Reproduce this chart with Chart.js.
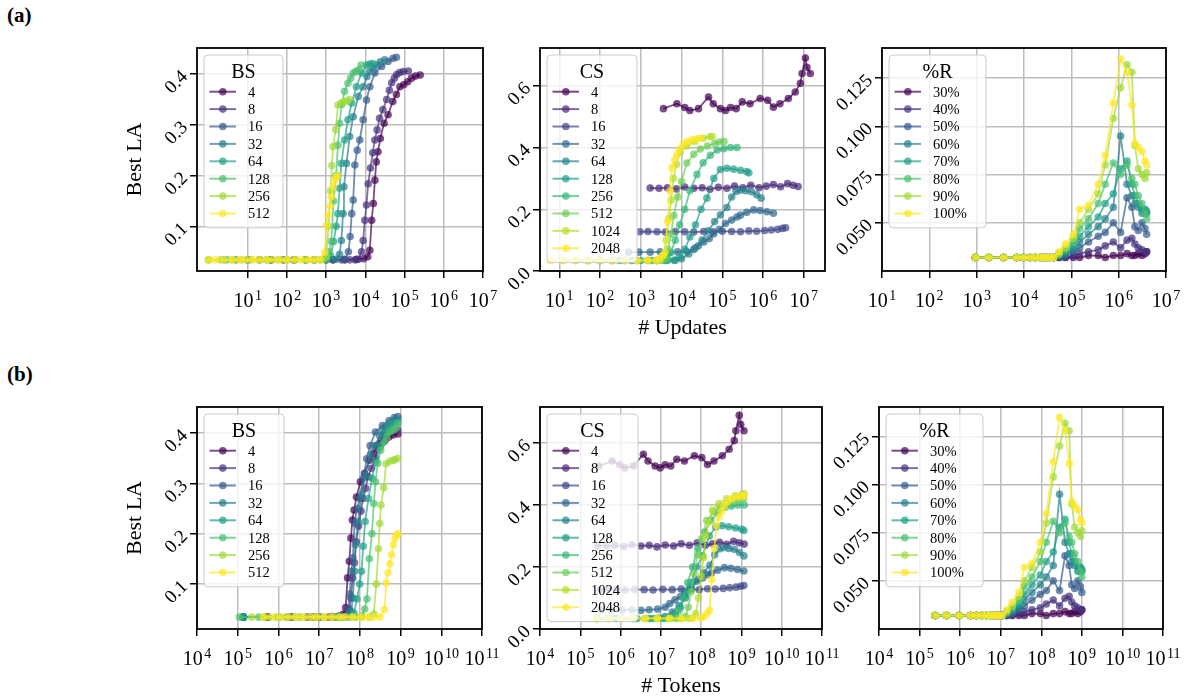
<!DOCTYPE html>
<html lang="en">
<head>
<meta charset="UTF-8" />
<title>Best LA vs updates / tokens</title>
<script src="https://cdn.jsdelivr.net/npm/chart.js"></script>
<style>
  body { margin:0; background:#fff; width:1184px; height:700px; overflow:hidden; position:relative;
         font-family:'Liberation Serif','DejaVu Serif',serif; color:#000; }
  .tag { position:absolute; left:7px; font-weight:bold; font-size:21px; }
</style>
</head>
<body>
<div class="tag" style="top:3px">(a)</div>
<div class="tag" style="top:362px">(b)</div>

<script>
// ---------- data ----------
const BS_NAMES = ['4', '8', '16', '32', '64', '128', '256', '512'];
const CS_NAMES = ['4', '8', '16', '32', '64', '128', '256', '512', '1024', '2048'];
const R_NAMES  = ['30%', '40%', '50%', '60%', '70%', '80%', '90%', '100%'];

// log ticks: value and exponent shown as 10^k
const UPDATE_TICKS = [1e1, 1e2, 1e3, 1e4, 1e5, 1e6, 1e7];
const UPDATE_EXP   = ['1', '2', '3', '4', '5', '6', '7'];
const TOKEN_TICKS  = [1e4, 1e5, 1e6, 1e7, 1e8, 1e9, 1e10, 1e11];
const TOKEN_EXP    = ['4', '5', '6', '7', '8', '9', '10', '11'];

const BS_Y_TICKS  = [0.1, 0.2, 0.3, 0.4];
const BS_Y_LABELS = ['0.1', '0.2', '0.3', '0.4'];
const CS_Y_TICKS  = [0, 0.2, 0.4, 0.6];
const CS_Y_LABELS = ['0.0', '0.2', '0.4', '0.6'];
const R_Y_TICKS   = [0.05, 0.075, 0.1, 0.125];
const R_Y_LABELS  = ['0.050', '0.075', '0.100', '0.125'];

// batch size sweep: x in updates, x in tokens, best LA
const bsUpdates = [
  [40,150,500,1500,3000,6000,9000,11500,13000,14500,16000,17500,19000,21000,24000,30000,38000,50000,62000,76000,95000,120000,150000,190000,250000],
  [20,80,300,1000,2500,4000,5500,6600,8000,8800,9700,10700,11800,13500,15500,17400,20000,23000,28000,35000,41000,47000,55000,63000,75000,93000,125000],
  [10,40,150,500,1500,3000,3700,4100,4500,4900,5400,6200,7200,8800,10700,13000,17500,26000,38000,51000,62000],
  [5,20,80,300,1000,1800,2200,2450,2700,2850,3300,4000,4900,6600,8700,11000,13000,16000,19500,24000,31000],
  [2.5,10,40,150,500,1000,1300,1550,1800,2000,2200,2450,2950,3600,4500,5900,8000,10700,13000,15500],
  [1,3,10,30,100,300,700,1000,1200,1350,1550,1800,2000,2200,2500,2950,3600,4200,4900,5700,6600,7800],
  [1,2,4,7,12,20,35,60,100,170,300,500,800,1000,1150,1300,1400,1500,1760,2000,2450,2980,3300,3900],
  [1,1.5,2.5,4,6,9,14,20,30,45,70,100,150,230,350,500,700,918,1013,1117,1250,1361,1500,1655,1825,1950]
];
const bsTokens = [
  [1.38e5,5.16e5,1.72e6,5.16e6,1.03e7,2.06e7,3.1e7,3.96e7,4.47e7,4.99e7,5.5e7,6.02e7,6.54e7,7.22e7,8.26e7,1.03e8,1.31e8,1.72e8,2.13e8,2.61e8,3.27e8,4.13e8,5.16e8,6.54e8,8.6e8],
  [1.38e5,5.5e5,2.06e6,6.88e6,1.72e7,2.75e7,3.78e7,4.54e7,5.5e7,6.05e7,6.67e7,7.36e7,8.12e7,9.29e7,1.07e8,1.2e8,1.38e8,1.58e8,1.93e8,2.41e8,2.82e8,3.23e8,3.78e8,4.33e8,5.16e8,6.4e8,8.6e8],
  [1.38e5,5.5e5,2.06e6,6.88e6,2.06e7,4.13e7,5.09e7,5.64e7,6.19e7,6.74e7,7.43e7,8.53e7,9.91e7,1.21e8,1.47e8,1.79e8,2.41e8,3.58e8,5.23e8,7.02e8,8.53e8],
  [1.38e5,5.5e5,2.2e6,8.26e6,2.75e7,4.95e7,6.05e7,6.74e7,7.43e7,7.84e7,9.08e7,1.1e8,1.35e8,1.82e8,2.39e8,3.03e8,3.58e8,4.4e8,5.37e8,6.6e8,8.53e8],
  [1.38e5,5.5e5,2.2e6,8.26e6,2.75e7,5.5e7,7.16e7,8.53e7,9.91e7,1.1e8,1.21e8,1.35e8,1.62e8,1.98e8,2.48e8,3.25e8,4.4e8,5.89e8,7.16e8,8.53e8],
  [1.1e5,3.3e5,1.1e6,3.3e6,1.1e7,3.3e7,7.71e7,1.1e8,1.32e8,1.49e8,1.71e8,1.98e8,2.2e8,2.42e8,2.75e8,3.25e8,3.96e8,4.62e8,5.39e8,6.27e8,7.27e8,8.59e8],
  [2.2e5,4.4e5,8.81e5,1.54e6,2.64e6,4.4e6,7.71e6,1.32e7,2.2e7,3.74e7,6.6e7,1.1e8,1.76e8,2.2e8,2.53e8,2.86e8,3.08e8,3.3e8,3.87e8,4.4e8,5.39e8,6.56e8,7.27e8,8.59e8],
  [4.4e5,6.6e5,1.1e6,1.76e6,2.64e6,3.96e6,6.16e6,8.81e6,1.32e7,1.98e7,3.08e7,4.4e7,6.6e7,1.01e8,1.54e8,2.2e8,3.08e8,4.04e8,4.46e8,4.92e8,5.5e8,5.99e8,6.6e8,7.29e8,8.04e8,8.59e8]
];
const bsLA = [
  [0.034,0.034,0.034,0.034,0.034,0.035,0.036,0.040,0.053,0.112,0.145,0.191,0.227,0.247,0.273,0.303,0.320,0.346,0.360,0.375,0.379,0.385,0.392,0.396,0.398],
  [0.034,0.034,0.034,0.034,0.034,0.034,0.034,0.035,0.050,0.072,0.112,0.142,0.184,0.215,0.245,0.270,0.290,0.313,0.330,0.350,0.368,0.383,0.392,0.399,0.403,0.405,0.406],
  [0.034,0.034,0.034,0.034,0.034,0.035,0.050,0.080,0.125,0.152,0.221,0.250,0.270,0.310,0.349,0.375,0.402,0.415,0.425,0.431,0.433],
  [0.034,0.034,0.034,0.034,0.034,0.035,0.045,0.072,0.125,0.178,0.224,0.277,0.316,0.356,0.375,0.395,0.405,0.412,0.418,0.424,0.428],
  [0.034,0.034,0.034,0.034,0.034,0.035,0.042,0.070,0.100,0.125,0.175,0.224,0.270,0.310,0.343,0.375,0.402,0.418,0.420,0.421],
  [0.034,0.034,0.034,0.034,0.034,0.034,0.034,0.036,0.050,0.070,0.150,0.200,0.260,0.303,0.340,0.366,0.382,0.392,0.402,0.405,0.408,0.418],
  [0.034,0.034,0.034,0.034,0.034,0.034,0.034,0.034,0.034,0.034,0.034,0.034,0.034,0.040,0.100,0.170,0.220,0.257,0.291,0.339,0.344,0.346,0.347,0.350],
  [0.034,0.034,0.034,0.034,0.034,0.034,0.034,0.034,0.034,0.034,0.034,0.034,0.034,0.034,0.034,0.034,0.034,0.049,0.102,0.122,0.140,0.158,0.178,0.191,0.197,0.200]
];

// context size sweep
const csUpdates = [
  [3600,7700,12000,16000,26000,46000,60000,90000,120000,160000,220000,310000,480000,850000,1300000,1800000,2600000,4200000,6200000,8300000,9100000,11000000,12000000,14500000],
  [1700,2800,4500,7500,12000,20000,32000,50000,80000,130000,200000,320000,500000,800000,1200000,1800000,2700000,4000000,5500000,7300000],
  [950,1500,2500,4000,7000,12000,20000,35000,60000,100000,170000,280000,450000,700000,1100000,1600000,2300000,3000000,3600000],
  [500,900,1700,3000,5000,8000,13000,20000,26000,35000,48000,62000,85000,120000,170000,230000,280000,400000,590000,850000,1250000,1800000],
  [200,600,1800,4000,7000,10000,15000,22000,32000,45000,65000,90000,130000,170000,220000,280000,380000,520000,700000,900000],
  [100,300,1000,2500,4500,6500,9000,12000,16000,22000,30000,42000,62000,90000,130000,190000,280000,400000,450000],
  [50,100,200,400,800,1500,2500,3500,4500,5500,7000,9000,12000,16000,24000,34000,51000,75000,110000,160000,230000],
  [25,50,100,200,400,800,1500,2400,3200,4000,4700,5500,6500,8000,10000,13500,20000,29000,43000,65000,85000,110000],
  [12,25,50,100,200,400,800,1500,2400,3000,3600,4200,4900,5600,6300,7500,9300,13500,21000,34000,50000,57000],
  [6,12,25,50,100,200,400,800,1500,2400,2900,3400,3900,4500,5200,5800,6700,7700,9000,11000,14000,18000,24000,28000]
];
const csTokens = [
  [2.88e5,6.16e5,9.6e5,1.28e6,2.08e6,3.68e6,4.8e6,7.2e6,9.6e6,1.28e7,1.76e7,2.48e7,3.84e7,6.8e7,1.04e8,1.44e8,2.08e8,3.36e8,4.96e8,6.64e8,7.28e8,8.8e8,9.6e8,1.16e9],
  [2.72e5,4.48e5,7.2e5,1.2e6,1.92e6,3.2e6,5.12e6,8e6,1.28e7,2.08e7,3.2e7,5.12e7,8e7,1.28e8,1.92e8,2.88e8,4.32e8,6.4e8,8.8e8,1.17e9],
  [3.04e5,4.8e5,8e5,1.28e6,2.24e6,3.84e6,6.4e6,1.12e7,1.92e7,3.2e7,5.44e7,8.96e7,1.44e8,2.24e8,3.52e8,5.12e8,7.36e8,9.6e8,1.15e9],
  [3.2e5,5.76e5,1.09e6,1.92e6,3.2e6,5.12e6,8.32e6,1.28e7,1.66e7,2.24e7,3.07e7,3.97e7,5.44e7,7.68e7,1.09e8,1.47e8,1.79e8,2.56e8,3.78e8,5.44e8,8e8,1.15e9],
  [2.56e5,7.68e5,2.3e6,5.12e6,8.96e6,1.28e7,1.92e7,2.82e7,4.1e7,5.76e7,8.32e7,1.15e8,1.66e8,2.18e8,2.82e8,3.58e8,4.86e8,6.66e8,8.96e8,1.15e9],
  [2.56e5,7.68e5,2.56e6,6.4e6,1.15e7,1.66e7,2.3e7,3.07e7,4.1e7,5.63e7,7.68e7,1.08e8,1.59e8,2.3e8,3.33e8,4.86e8,7.17e8,1.02e9,1.15e9],
  [2.56e5,5.12e5,1.02e6,2.05e6,4.1e6,7.68e6,1.28e7,1.79e7,2.3e7,2.82e7,3.58e7,4.61e7,6.14e7,8.19e7,1.23e8,1.74e8,2.61e8,3.84e8,5.63e8,8.19e8,1.18e9],
  [2.56e5,5.12e5,1.02e6,2.05e6,4.1e6,8.19e6,1.54e7,2.46e7,3.28e7,4.1e7,4.81e7,5.63e7,6.66e7,8.19e7,1.02e8,1.38e8,2.05e8,2.97e8,4.4e8,6.66e8,8.7e8,1.13e9],
  [2.46e5,5.12e5,1.02e6,2.05e6,4.1e6,8.19e6,1.64e7,3.07e7,4.92e7,6.14e7,7.37e7,8.6e7,1e8,1.15e8,1.29e8,1.54e8,1.9e8,2.76e8,4.3e8,6.96e8,1.02e9,1.17e9],
  [2.46e5,4.92e5,1.02e6,2.05e6,4.1e6,8.19e6,1.64e7,3.28e7,6.14e7,9.83e7,1.19e8,1.39e8,1.6e8,1.84e8,2.13e8,2.38e8,2.74e8,3.15e8,3.69e8,4.51e8,5.73e8,7.37e8,9.83e8,1.15e9]
];
const csLA = [
  [0.526,0.542,0.530,0.520,0.526,0.564,0.542,0.526,0.520,0.530,0.526,0.548,0.542,0.559,0.553,0.531,0.542,0.559,0.580,0.608,0.640,0.690,0.660,0.640],
  [0.269,0.268,0.270,0.266,0.272,0.268,0.270,0.265,0.271,0.268,0.275,0.270,0.278,0.270,0.275,0.280,0.273,0.283,0.278,0.274],
  [0.127,0.128,0.127,0.126,0.128,0.127,0.126,0.128,0.127,0.129,0.128,0.127,0.130,0.129,0.131,0.133,0.135,0.138,0.140],
  [0.061,0.061,0.061,0.062,0.060,0.062,0.064,0.070,0.082,0.094,0.105,0.121,0.135,0.154,0.165,0.175,0.181,0.190,0.198,0.196,0.192,0.187],
  [0.034,0.034,0.034,0.034,0.035,0.040,0.055,0.075,0.100,0.130,0.160,0.182,0.206,0.240,0.258,0.262,0.260,0.257,0.247,0.236],
  [0.034,0.034,0.034,0.034,0.034,0.035,0.045,0.070,0.110,0.150,0.200,0.236,0.300,0.329,0.333,0.330,0.326,0.322,0.318],
  [0.034,0.034,0.034,0.034,0.034,0.034,0.034,0.035,0.040,0.060,0.100,0.150,0.200,0.260,0.313,0.351,0.375,0.392,0.396,0.400,0.400],
  [0.034,0.034,0.034,0.034,0.034,0.034,0.034,0.034,0.035,0.040,0.070,0.120,0.180,0.240,0.290,0.350,0.378,0.395,0.405,0.413,0.418,0.420],
  [0.034,0.034,0.034,0.034,0.034,0.034,0.034,0.034,0.034,0.036,0.050,0.100,0.170,0.230,0.300,0.345,0.384,0.405,0.420,0.430,0.435,0.436],
  [0.034,0.034,0.034,0.034,0.034,0.034,0.034,0.034,0.034,0.035,0.040,0.050,0.060,0.160,0.260,0.334,0.360,0.378,0.395,0.411,0.420,0.425,0.428,0.430]
];

// replay ratio sweep (all runs share evaluation steps)
const rUpdates = [940,1800,3700,7000,9800,13500,17400,22000,26000,30000,35000,42000,55000,75000,110000,150000,230000,370000,520000,770000,1100000,1500000,1900000,2200000,2600000,3100000,3600000,3900000];
const rTokens  = [2.41e5,4.61e5,9.47e5,1.79e6,2.51e6,3.46e6,4.45e6,5.63e6,6.66e6,7.68e6,8.96e6,1.08e7,1.41e7,1.92e7,2.82e7,3.84e7,5.89e7,9.47e7,1.33e8,1.97e8,2.82e8,3.84e8,4.86e8,5.63e8,6.66e8,7.94e8,9.22e8,9.98e8];
const rLA = [
  [0.032,0.032,0.032,0.032,0.032,0.032,0.032,0.032,0.032,0.032,0.032,0.032,0.032,0.032,0.032,0.032,0.033,0.033,0.032,0.033,0.033,0.034,0.033,0.033,0.034,0.033,0.034,0.035],
  [0.032,0.032,0.032,0.032,0.032,0.032,0.032,0.032,0.032,0.032,0.032,0.032,0.032,0.032,0.033,0.034,0.035,0.036,0.038,0.040,0.037,0.041,0.042,0.039,0.037,0.036,0.035,0.035],
  [0.032,0.032,0.032,0.032,0.032,0.032,0.032,0.032,0.032,0.032,0.032,0.032,0.032,0.033,0.035,0.037,0.040,0.043,0.045,0.050,0.045,0.063,0.058,0.048,0.046,0.050,0.047,0.044],
  [0.032,0.032,0.032,0.032,0.032,0.032,0.032,0.032,0.032,0.032,0.032,0.032,0.033,0.034,0.036,0.040,0.044,0.048,0.052,0.058,0.095,0.070,0.064,0.060,0.058,0.055,0.057,0.055],
  [0.032,0.032,0.032,0.032,0.032,0.032,0.032,0.032,0.032,0.032,0.032,0.032,0.033,0.035,0.038,0.043,0.048,0.053,0.060,0.065,0.078,0.082,0.070,0.064,0.060,0.057,0.055,0.056],
  [0.032,0.032,0.032,0.032,0.032,0.032,0.032,0.032,0.032,0.032,0.032,0.032,0.034,0.036,0.040,0.047,0.052,0.060,0.070,0.081,0.075,0.080,0.073,0.070,0.064,0.060,0.055,0.052],
  [0.032,0.032,0.032,0.032,0.032,0.032,0.032,0.032,0.032,0.032,0.032,0.032,0.034,0.037,0.042,0.050,0.057,0.065,0.080,0.104,0.120,0.132,0.128,0.090,0.078,0.075,0.073,0.076],
  [0.032,0.032,0.032,0.032,0.032,0.032,0.032,0.032,0.032,0.032,0.032,0.032,0.035,0.039,0.044,0.057,0.059,0.070,0.085,0.112,0.135,0.128,0.111,0.091,0.089,0.087,0.082,0.080]
];

const VIRIDIS_8  = ['#440154','#46327e','#365c8d','#277f8e','#1fa187','#4ac16d','#a0da39','#fde725'];
const VIRIDIS_10 = ['#440154','#482878','#3e4989','#31688e','#26828e','#1f9e89','#35b779','#6ece58','#b5de2b','#fde725'];

// ---------- layout ----------
const FONT = "'Liberation Serif', 'DejaVu Serif', serif";
const PAD_T = 30, PAD_R = 30, PAD_B = 74;

const panels = [
  { box:[197,48,483,270.5], padL:80, x:[0.51,1e7], xt:UPDATE_TICKS, xe:UPDATE_EXP, y:[0.012,0.4514], yt:BS_Y_TICKS, yl:BS_Y_LABELS,
    yTitle:'Best LA', xTitle:'', legend:'BS', legW:79, names:BS_NAMES, colors:VIRIDIS_8, xs:bsUpdates, ys:bsLA },
  { box:[540,48,824.5,270.5], padL:60, x:[3.35,3.33e7], xt:UPDATE_TICKS, xe:UPDATE_EXP, y:[0,0.7226], yt:CS_Y_TICKS, yl:CS_Y_LABELS,
    yTitle:'', xTitle:'# Updates', legend:'CS', legW:90, names:CS_NAMES, colors:VIRIDIS_10, xs:csUpdates, ys:csLA },
  { box:[882,48,1166,270.5], padL:60, x:[10,1e7], xt:UPDATE_TICKS, xe:UPDATE_EXP, y:[0.025,0.1406], yt:R_Y_TICKS, yl:R_Y_LABELS,
    yTitle:'', xTitle:'', legend:'%R', legW:97, names:R_NAMES, colors:VIRIDIS_8, xs:rUpdates, ys:rLA },
  { box:[197,407,482,629], padL:80, x:[1e4,1e11], xt:TOKEN_TICKS, xe:TOKEN_EXP, y:[0.0104,0.4518], yt:BS_Y_TICKS, yl:BS_Y_LABELS,
    yTitle:'Best LA', xTitle:'', legend:'BS', legW:80, names:BS_NAMES, colors:VIRIDIS_8, xs:bsTokens, ys:bsLA },
  { box:[540,407,822,629], padL:60, x:[1e4,1e11], xt:TOKEN_TICKS, xe:TOKEN_EXP, y:[0,0.7165], yt:CS_Y_TICKS, yl:CS_Y_LABELS,
    yTitle:'', xTitle:'# Tokens', legend:'CS', legW:91, names:CS_NAMES, colors:VIRIDIS_10, xs:csTokens, ys:csLA },
  { box:[879,407,1163,629], padL:60, x:[1e4,1e11], xt:TOKEN_TICKS, xe:TOKEN_EXP, y:[0.025,0.1403], yt:R_Y_TICKS, yl:R_Y_LABELS,
    yTitle:'', xTitle:'', legend:'%R', legW:97, names:R_NAMES, colors:VIRIDIS_8, xs:rTokens, ys:rLA }
];

function rgba(hex, a) {
  const n = parseInt(hex.slice(1), 16);
  return `rgba(${n >> 16},${(n >> 8) & 255},${n & 255},${a})`;
}

// frame, 10^k tick labels and a matplotlib-like legend box inside the plot
const frameLegend = {
  id: 'frameLegend',
  afterDatasetsDraw(chart, args, opts) {
    const { ctx, chartArea: a } = chart;
    ctx.save();
    ctx.strokeStyle = '#000';
    ctx.lineWidth = 1.8;
    ctx.strokeRect(a.left, a.top, a.width, a.height);

    // x tick labels with a real superscript
    const xs = chart.scales.x;
    ctx.fillStyle = '#000';
    ctx.textBaseline = 'alphabetic';
    ctx.textAlign = 'left';
    opts.ticks.forEach((v, i) => {
      const px = xs.getPixelForValue(v);
      ctx.font = '20px ' + FONT;
      const wb = ctx.measureText('10').width;
      ctx.font = '14px ' + FONT;
      const we = ctx.measureText(opts.exps[i]).width;
      const x0 = px - (wb + 1.5 + we) / 2;
      const base = a.bottom + 36;
      ctx.font = '20px ' + FONT;
      ctx.fillText('10', x0, base);
      ctx.font = '14px ' + FONT;
      ctx.fillText(opts.exps[i], x0 + wb + 1.5, base - 7.5);
    });

    const n = chart.data.datasets.length;
    const lx = a.left + 7, ly = a.top + 7;
    const h = 37 + (n - 1) * 17.4 + 14;
    ctx.beginPath();
    ctx.roundRect(lx, ly, opts.width, h, 4);
    ctx.fillStyle = 'rgba(255,255,255,0.8)';
    ctx.fill();
    ctx.strokeStyle = '#cccccc';
    ctx.lineWidth = 1;
    ctx.stroke();

    ctx.fillStyle = '#000';
    ctx.textAlign = 'center';
    ctx.textBaseline = 'middle';
    ctx.font = '20px ' + FONT;
    ctx.fillText(opts.title, lx + opts.width / 2, ly + 17.5);

    ctx.font = '14.5px ' + FONT;
    ctx.textAlign = 'left';
    chart.data.datasets.forEach((ds, i) => {
      const y = ly + 36.7 + i * 17.4;
      ctx.strokeStyle = ds.borderColor;
      ctx.lineWidth = 2;
      ctx.beginPath();
      ctx.moveTo(lx + 5.5, y);
      ctx.lineTo(lx + 32, y);
      ctx.stroke();
      ctx.fillStyle = ds.pointBackgroundColor;
      ctx.beginPath();
      ctx.arc(lx + 18.8, y, 3.8, 0, Math.PI * 2);
      ctx.fill();
      ctx.fillStyle = '#000';
      ctx.fillText(ds.label, lx + 44, y + 1);
    });
    ctx.restore();
  }
};

function gridOpts() {
  return { color:'#bdbdbd', lineWidth:1.5, tickLength:7, tickColor:'#000', tickWidth:1.5 };
}

panels.forEach(p => {
  const [l, t, r, b] = p.box;
  const W = Math.round(r - l + p.padL + PAD_R);
  const H = Math.round(b - t + PAD_T + PAD_B);
  const c = document.createElement('canvas');
  c.width = W; c.height = H;
  c.style.cssText = `position:absolute;left:${l - p.padL}px;top:${t - PAD_T}px;width:${W}px;height:${H}px;`;
  document.body.appendChild(c);

  const n = p.names.length;
  const datasets = p.names.map((name, i) => {
    const xs = Array.isArray(p.xs[0]) ? p.xs[i] : p.xs;
    const col = p.colors[i];
    return {
      label: name,
      data: xs.map((x, j) => ({ x: x, y: p.ys[i][j] })),
      showLine: true,
      borderColor: rgba(col, 0.7),
      backgroundColor: rgba(col, 0.7),
      pointBackgroundColor: rgba(col, 0.7),
      borderWidth: 1.8,
      pointRadius: 3.8,
      pointBorderWidth: 0,
      pointHoverRadius: 0,
      order: n - i
    };
  });

  new Chart(c, {
    type: 'scatter',
    data: { datasets },
    plugins: [frameLegend],
    options: {
      responsive: false,
      animation: false,
      events: [],
      layout: { padding: { top: PAD_T, right: PAD_R, left: 0, bottom: 0 } },
      plugins: {
        legend: { display: false },
        tooltip: { enabled: false },
        frameLegend: { title: p.legend, width: p.legW, ticks: p.xt, exps: p.xe }
      },
      scales: {
        x: {
          type: 'logarithmic',
          min: p.x[0], max: p.x[1],
          afterBuildTicks: s => { s.ticks = p.xt.map(v => ({ value: v })); },
          afterFit: s => { s.height = PAD_B; },
          ticks: { display: false, autoSkip: false, maxRotation: 0 },
          grid: gridOpts(),
          border: { display: false },
          title: { display: !!p.xTitle, text: p.xTitle, color: '#000',
                   font: { family: FONT, size: 22 }, padding: { top: 0, bottom: 4 } }
        },
        y: {
          type: 'linear',
          min: p.y[0], max: p.y[1],
          afterBuildTicks: s => { s.ticks = p.yt.map(v => ({ value: v })); },
          afterFit: s => { s.width = p.padL; },
          ticks: { callback: (v, i) => p.yl[i], autoSkip: false, minRotation: 45, maxRotation: 45,
                   font: { family: FONT, size: 19 }, color: '#000', padding: 5 },
          grid: gridOpts(),
          border: { display: false },
          title: { display: !!p.yTitle, text: p.yTitle, color: '#000',
                   font: { family: FONT, size: 22 }, padding: { top: 5, bottom: 0 } }
        }
      }
    }
  });
});
</script>
</body>
</html>
